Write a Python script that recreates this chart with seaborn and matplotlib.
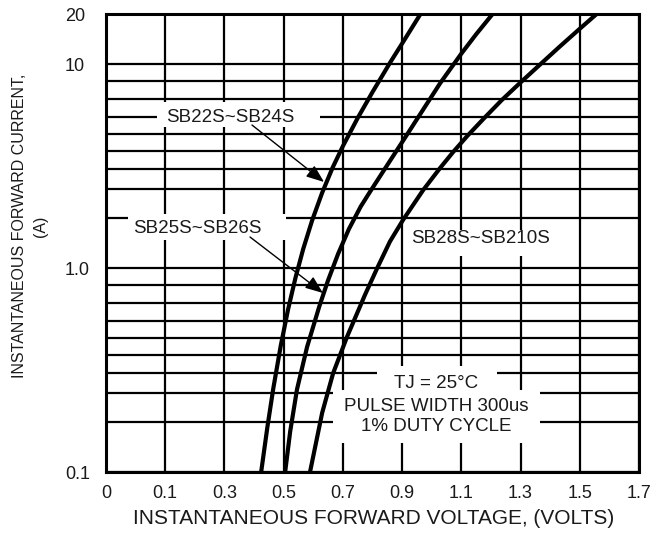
import matplotlib
matplotlib.use("Agg")
import matplotlib.pyplot as plt
from matplotlib.patches import Rectangle
from matplotlib.ticker import NullFormatter
import pandas as pd
import seaborn as sns

# curves (V, A)
voltage_sb22_24 = [0.424, 0.445, 0.465, 0.490, 0.515, 0.540, 0.566, 0.596, 0.630, 0.665,
                   0.700, 0.750, 0.800, 0.860, 0.910, 0.961]
current_sb22_24 = [0.100, 0.166, 0.257, 0.415, 0.628, 0.897, 1.24, 1.71, 2.34, 3.10,
                   3.96, 5.44, 7.29, 10.2, 13.3, 17.5]

voltage_sb25_26 = [0.505, 0.522, 0.545, 0.579, 0.620, 0.650, 0.684, 0.720, 0.760, 0.792,
                   0.850, 0.917, 0.970, 1.028, 1.099, 1.150, 1.207]
current_sb25_26 = [0.100, 0.158, 0.254, 0.410, 0.646, 0.871, 1.175, 1.55, 2.00, 2.37,
                   3.20, 4.52, 5.95, 8.04, 11.2, 14.0, 17.7]

voltage_sb28_210 = [0.589, 0.630, 0.667, 0.714, 0.775, 0.816, 0.859, 0.903, 0.971, 1.028,
                    1.072, 1.120, 1.177, 1.237, 1.300, 1.360, 1.430, 1.500, 1.555]
current_sb28_210 = [0.100, 0.195, 0.305, 0.46, 0.741, 1.00, 1.35, 1.72, 2.41, 3.09,
                    3.70, 4.44, 5.43, 6.67, 8.13, 9.77, 12.1, 14.9, 17.5]

device_names = ["SB22S~SB24S", "SB25S~SB26S", "SB28S~SB210S"]

# axis ticks as printed on the sheet
x_ticks = [-0.1, 0.1, 0.3, 0.5, 0.7, 0.9, 1.1, 1.3, 1.5, 1.7]
x_tick_labels = ["0", "0.1", "0.3", "0.5", "0.7", "0.9", "1.1", "1.3", "1.5", "1.7"]
y_ticks = [0.1, 1.0, 10, 17.6]
y_tick_labels = ["0.1", "1.0", "10", "20"]
# the drawn horizontal rulings inside each decade (fraction of decade top)
y_grid_factors = [0.826, 0.674, 0.553, 0.452, 0.375, 0.307, 0.243, 0.175]

TEXT_COLOR = "#1a1a1a"

sns.set_theme(style="white")
plt.rcParams["font.family"] = ["Liberation Sans", "DejaVu Sans"]

df = pd.concat([
    pd.DataFrame({"voltage": voltage_sb22_24, "current": current_sb22_24, "device": device_names[0]}),
    pd.DataFrame({"voltage": voltage_sb25_26, "current": current_sb25_26, "device": device_names[1]}),
    pd.DataFrame({"voltage": voltage_sb28_210, "current": current_sb28_210, "device": device_names[2]}),
], ignore_index=True)

fig = plt.figure(figsize=(6.53, 5.41), dpi=100)
ax = fig.add_axes([106 / 653, 1 - 472 / 541, 533 / 653, 458 / 541])

sns.lineplot(data=df, x="voltage", y="current", hue="device", palette=["black"] * 3,
             estimator=None, errorbar=None, linewidth=3.0, legend=False, ax=ax, zorder=3)

ax.set_yscale("log")
ax.set_xlim(x_ticks[0], x_ticks[-1])
ax.set_ylim(y_ticks[0], y_ticks[-1])
ax.set_xticks(x_ticks, x_tick_labels)
ax.set_yticks(y_ticks, y_tick_labels)
y_minor = [f * d for d in (10, 1) for f in y_grid_factors]
ax.set_yticks(y_minor, minor=True)
ax.yaxis.set_minor_formatter(NullFormatter())
ax.set_xlabel("")
ax.set_ylabel("")

ax.set_axisbelow(True)
ax.grid(True, which="major", axis="both", color="black", linewidth=1.6)
ax.grid(True, which="minor", axis="y", color="black", linewidth=1.6)
ax.tick_params(which="both", length=0, labelsize=13, labelcolor=TEXT_COLOR)
ax.tick_params(axis="x", pad=9)
ax.tick_params(axis="y", pad=29.5)
for lab in ax.get_yticklabels():
    lab.set_horizontalalignment("left")

for s in ax.spines.values():
    s.set_visible(True)
    s.set_color("black")
    s.set_linewidth(2.2)

# white masks behind the labels (axes fraction: x0, y0, x1, y1)
label_masks = [
    (0.0957, 0.7533, 0.4015, 0.8079),
    (0.0413, 0.5066, 0.3377, 0.5633),
    (0.5629, 0.4716, 0.8386, 0.5284),
    (0.5084, 0.1747, 0.7336, 0.2314),
    (0.4259, 0.0633, 0.8143, 0.1790),
]
for x0, y0, x1, y1 in label_masks:
    ax.add_patch(Rectangle((x0, y0), x1 - x0, y1 - y0, transform=ax.transAxes,
                           facecolor="white", edgecolor="none", zorder=1))

ax.text(0.2326, 0.7751, device_names[0], transform=ax.transAxes, ha="center", va="center",
        fontsize=13.5, color=TEXT_COLOR, zorder=4)
ax.text(0.1707, 0.5306, device_names[1], transform=ax.transAxes, ha="center", va="center",
        fontsize=13.5, color=TEXT_COLOR, zorder=4)
ax.text(0.7036, 0.5109, device_names[2], transform=ax.transAxes, ha="center", va="center",
        fontsize=13.5, color=TEXT_COLOR, zorder=4)

cond_lines = ["TJ = 25°C", "PULSE WIDTH 300us", "1% DUTY CYCLE"]
for txt, fy in zip(cond_lines, [0.1943, 0.1441, 0.0983]):
    ax.text(0.620, fy, txt, transform=ax.transAxes, ha="center", va="center",
            fontsize=13.5, color=TEXT_COLOR, zorder=4)

arrow_props = dict(arrowstyle="-|>,head_length=0.9,head_width=0.35", color="black",
                   lw=1.0, shrinkA=0, shrinkB=0)
ax.annotate("", xy=(0.409, 0.6332), xycoords="axes fraction",
            xytext=(0.2739, 0.7576), textcoords="axes fraction", arrowprops=arrow_props, zorder=4)
ax.annotate("", xy=(0.4071, 0.3908), xycoords="axes fraction",
            xytext=(0.2702, 0.5131), textcoords="axes fraction", arrowprops=arrow_props, zorder=4)

fig.text(374 / 653, 1 - 519 / 541, "INSTANTANEOUS FORWARD VOLTAGE, (VOLTS)",
         ha="center", va="center", fontsize=15, color=TEXT_COLOR)
fig.text(30 / 653, 1 - 226 / 541, "INSTANTANEOUS FORWARD CURRENT,\n(A)", rotation=90,
         ha="center", va="center", multialignment="center", linespacing=1.45,
         fontsize=11.5, color=TEXT_COLOR)

fig.savefig("out.png", dpi=100)
plt.close(fig)
